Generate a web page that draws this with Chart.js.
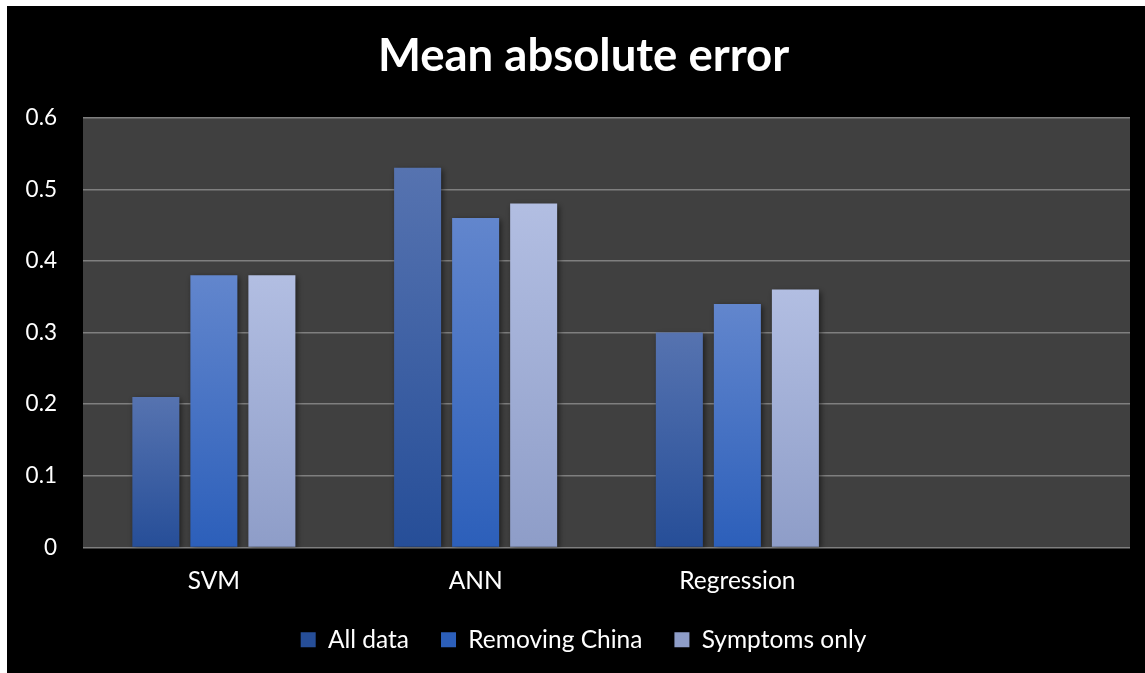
<!DOCTYPE html>
<html>
<head>
<meta charset="utf-8">
<script src="https://cdn.jsdelivr.net/npm/chart.js@4/dist/chart.umd.min.js"></script>
<style>
  html, body { margin: 0; padding: 0; background: #ffffff; overflow: hidden; width: 1145px; height: 673px; }
  #wrap { position: absolute; left: 7px; top: 6px; right: 0; bottom: 0; background: #000000; }
</style>
</head>
<body>
<div id="wrap"><canvas id="myChart"></canvas></div>
<script>
// data
var categories = ['SVM', 'ANN', 'Regression', ''];
var allData = [0.21, 0.53, 0.30, null];
var removingChina = [0.38, 0.46, 0.34, null];
var symptomsOnly = [0.38, 0.48, 0.36, null];
var yTicks = [0, 0.1, 0.2, 0.3, 0.4, 0.5, 0.6];

// gradient for each bar, from its top down to zero
function barGradient(topColor, bottomColor, flat) {
    return function (c) {
        if (c.type !== 'data' || !c.chart.scales.y || c.parsed == null) return flat;
        var y = c.chart.scales.y;
        var top = y.getPixelForValue(c.parsed.y);
        var bottom = y.getPixelForValue(0);
        if (!isFinite(top) || !isFinite(bottom) || top === bottom) return flat;
        var g = c.chart.ctx.createLinearGradient(0, top, 0, bottom);
        g.addColorStop(0, topColor);
        g.addColorStop(1, bottomColor);
        return g;
    };
}

// grey plot area + shadow under bars
var plotBackground = {
    id: 'plotBackground',
    beforeDraw: function (chart) {
        var a = chart.chartArea;
        var ctx = chart.ctx;
        ctx.save();
        ctx.fillStyle = '#404040';
        ctx.fillRect(a.left, a.top, a.right - a.left, a.bottom - a.top);
        ctx.restore();
    },
    beforeDatasetsDraw: function (chart) {
        var ctx = chart.ctx;
        ctx.save();
        ctx.shadowColor = 'rgba(0,0,0,0.55)';
        ctx.shadowBlur = 6;
        ctx.shadowOffsetX = 2;
        ctx.shadowOffsetY = 2;
    },
    afterDatasetsDraw: function (chart) {
        chart.ctx.restore();
    }
};

var fontFamily = 'Lato, "Open Sans", sans-serif';

var chart = new Chart('myChart', {
    type: 'bar',
    data: {
        labels: categories,
        datasets: [
            {
                label: 'All data',
                data: allData,
                backgroundColor: barGradient('#5673b0', '#264e98', '#3a5ea3')
            },
            {
                label: 'Removing China',
                data: removingChina,
                backgroundColor: barGradient('#6286cd', '#2c5fba', '#4270c4')
            },
            {
                label: 'Symptoms only',
                data: symptomsOnly,
                backgroundColor: barGradient('#b2bee2', '#8e9dc8', '#a3b0d8')
            }
        ]
    },
    options: {
        responsive: true,
        maintainAspectRatio: false,
        animation: false,
        categoryPercentage: 0.665,
        barPercentage: 0.81,
        layout: { padding: { left: 15, right: 0, top: 0, bottom: 11 } },
        plugins: {
            title: {
                display: true,
                text: 'Mean absolute error',
                color: '#ffffff',
                font: { family: fontFamily, size: 45.5, weight: 'bold' },
                padding: { top: 23, bottom: 34 }
            },
            legend: {
                display: true,
                position: 'bottom',
                labels: {
                    color: '#ffffff',
                    font: { family: fontFamily, size: 24.5 },
                    boxWidth: 15,
                    boxHeight: 15,
                    padding: 32
                }
            },
            tooltip: { enabled: false }
        },
        scales: {
            x: {
                afterFit: function (axis) { axis.height = 48; },
                grid: { display: false, drawTicks: false },
                border: { display: false },
                ticks: {
                    color: '#ffffff',
                    font: { family: fontFamily, size: 24.5 },
                    padding: 19
                }
            },
            y: {
                min: 0,
                max: 0.6,
                afterBuildTicks: function (axis) {
                    axis.ticks = yTicks.map(function (v) { return { value: v }; });
                },
                afterFit: function (axis) { axis.width = 61; },
                grid: { color: '#7f7f7f', lineWidth: 1.4, drawTicks: false },
                border: { display: false },
                ticks: {
                    color: '#ffffff',
                    font: { family: fontFamily, size: 22.5 },
                    padding: 26,
                    callback: function (v) { return String(v); }
                }
            },
            // empty strip right of the plot
            yRight: {
                type: 'linear',
                position: 'right',
                afterFit: function (axis) { axis.width = 15; },
                grid: { display: false, drawTicks: false },
                border: { display: false },
                ticks: { display: false }
            }
        }
    },
    plugins: [plotBackground]
});
</script>
</body>
</html>
